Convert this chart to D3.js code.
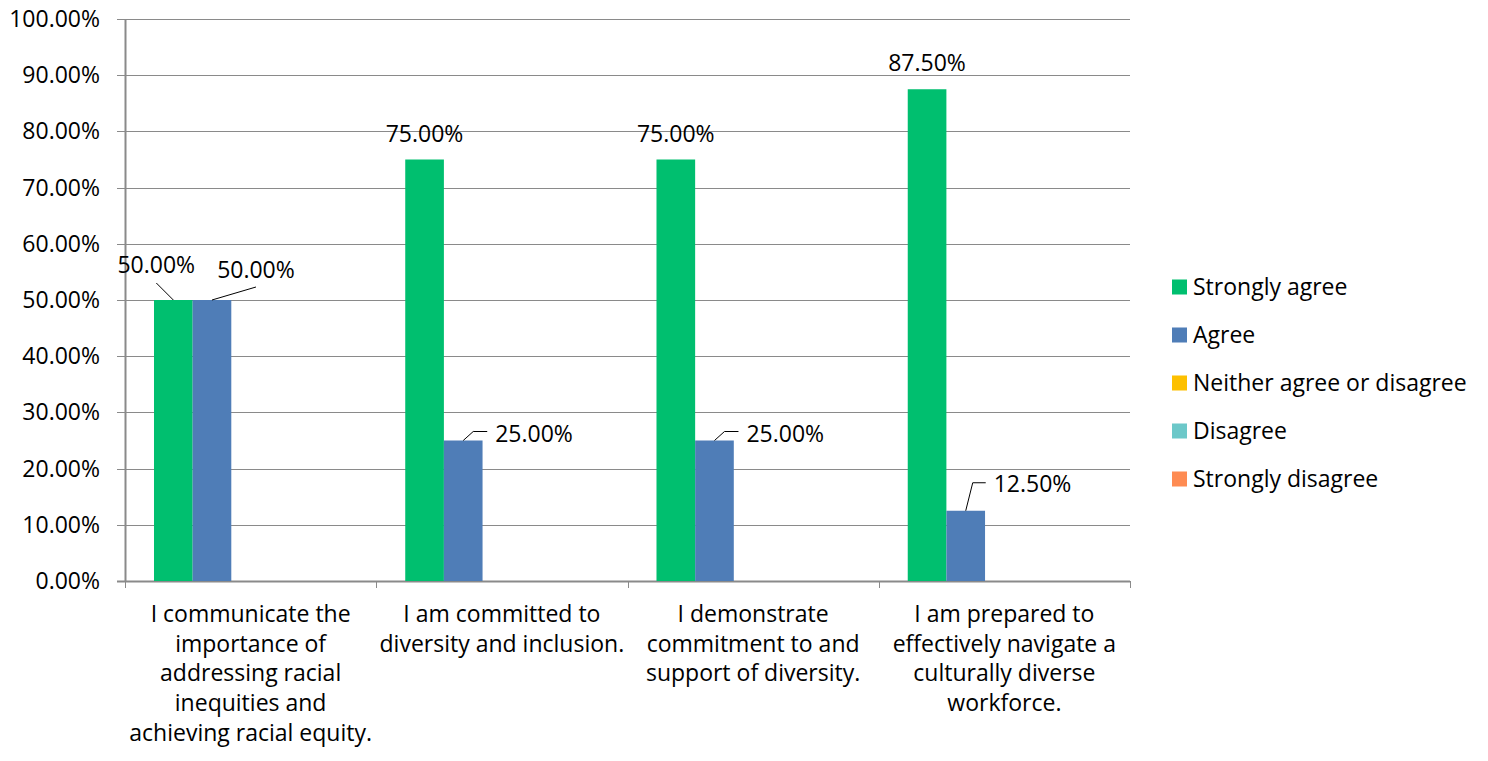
<!DOCTYPE html>
<html>
<head>
<meta charset="utf-8">
<script src="https://cdn.jsdelivr.net/npm/d3@7"></script>
<style>
  body { margin: 0; background: #fff; }
  text { font-family: "Open Sans", "Noto Sans", sans-serif; fill: #000; }
</style>
</head>
<body>
<script>
var w = 1488,
    h = 761;

// categories (line breaks as shown under the axis)
var categories = [
  "I communicate the\nimportance of\naddressing racial\ninequities and\nachieving racial equity.",
  "I am committed to\ndiversity and inclusion.",
  "I demonstrate\ncommitment to and\nsupport of diversity.",
  "I am prepared to\neffectively navigate a\nculturally diverse\nworkforce."
];

var seriesNames = ["Strongly agree", "Agree", "Neither agree or disagree", "Disagree", "Strongly disagree"];
var seriesColors = ["#00bf6f", "#4f7db7", "#fdc000", "#6cc8c9", "#fe8b52"];

var stronglyAgree = [0.50, 0.75, 0.75, 0.875];
var agree = [0.50, 0.25, 0.25, 0.125];
var neither = [0, 0, 0, 0];
var disagree = [0, 0, 0, 0];
var stronglyDisagree = [0, 0, 0, 0];

var yTicks = [0, 0.1, 0.2, 0.3, 0.4, 0.5, 0.6, 0.7, 0.8, 0.9, 1.0];

var allSeries = [stronglyAgree, agree, neither, disagree, stronglyDisagree];

var margin = {left: 125, right: 358, top: 19, bottom: 180};
var x0 = margin.left, x1 = w - margin.right, yTop = margin.top, yBot = h - margin.bottom;
var fs = "23px";

var svg = d3.select("body").append("svg").attr("width", w).attr("height", h);

var x = d3.scaleBand().domain(d3.range(categories.length)).range([x0, x1]);
var xs = d3.scaleBand().domain(d3.range(seriesNames.length)).range([0, x.bandwidth()])
          .paddingInner(0).paddingOuter(0.75);
var y = d3.scaleLinear().domain([0, 1]).range([yBot, yTop]);

var fmt = d3.format(".2%");
var gridColor = "#8a8a8a";

// gridlines + y tick labels
svg.selectAll("line.grid")
  .data(yTicks)
  .enter()
  .append("line")
  .attr("x1", x0 - 8).attr("x2", x1)
  .attr("y1", function(d) { return Math.round(y(d)) + 0.5; })
  .attr("y2", function(d) { return Math.round(y(d)) + 0.5; })
  .attr("stroke", gridColor).attr("stroke-width", 1);

svg.selectAll("text.ytick")
  .data(yTicks)
  .enter()
  .append("text")
  .attr("x", x0 - 25)
  .attr("y", function(d) { return y(d); })
  .attr("dy", "0.35em")
  .attr("text-anchor", "end")
  .style("font-size", fs)
  .text(function(d) { return fmt(d); });

// y axis line
svg.append("line")
  .attr("x1", x0 + 0.5).attr("x2", x0 + 0.5)
  .attr("y1", yTop).attr("y2", yBot)
  .attr("stroke", gridColor).attr("stroke-width", 2);

// x axis line and category ticks
svg.append("line")
  .attr("x1", x0 - 8).attr("x2", x1)
  .attr("y1", Math.round(yBot) + 0.5).attr("y2", Math.round(yBot) + 0.5)
  .attr("stroke", gridColor).attr("stroke-width", 2);

var boundaries = d3.range(categories.length + 1).map(function(i) {
  return i < categories.length ? x(i) : x1;
});
svg.selectAll("line.xtick")
  .data(boundaries)
  .enter()
  .append("line")
  .attr("x1", function(d) { return Math.round(d) + 0.5; })
  .attr("x2", function(d) { return Math.round(d) + 0.5; })
  .attr("y1", yBot).attr("y2", yBot + 7)
  .attr("stroke", gridColor).attr("stroke-width", 1);

// category labels
var catLabels = svg.selectAll("text.cat")
  .data(categories)
  .enter()
  .append("text")
  .attr("text-anchor", "middle")
  .style("font-size", fs);

catLabels.each(function(d, i) {
  var t = d3.select(this);
  d.split("\n").forEach(function(line, j) {
    t.append("tspan")
      .attr("x", x(i) + x.bandwidth() / 2)
      .attr("y", 614 + j * 29.7)
      .attr("dy", "0.35em")
      .text(line);
  });
});

// bars
var points = [];
allSeries.forEach(function(vals, s) {
  vals.forEach(function(v, c) {
    points.push({s: s, c: c, v: v});
  });
});

svg.selectAll("rect.bar")
  .data(points.filter(function(d) { return d.v > 0; }))
  .enter()
  .append("rect")
  .attr("x", function(d) { return x(d.c) + xs(d.s); })
  .attr("y", function(d) { return y(d.v); })
  .attr("width", xs.bandwidth())
  .attr("height", function(d) { return y(0) - y(d.v); })
  .attr("fill", function(d) { return seriesColors[d.s]; });

// data labels: moved labels get a leader line (offset of text centre from bar top centre)
var moved = {
  "0|0": {dx: -17, dy: -35, lead: [[-17, -17]]},
  "1|0": {dx: 44, dy: -30, lead: [[44, -13]]},
  "1|1": {dx: 73, dy: -7, lead: [[10, -9], [24, -9]]},
  "1|2": {dx: 73, dy: -7, lead: [[10, -9], [24, -9]]},
  "1|3": {dx: 67, dy: -27, lead: [[7, -28], [20, -28]]}
};

var labelled = points.filter(function(d) { return d.v > 0; });
labelled.forEach(function(d) {
  var cx = x(d.c) + xs(d.s) + xs.bandwidth() / 2,
      cy = y(d.v);
  var m = moved[d.s + "|" + d.c];
  var tx = cx, ty = cy - 26;
  if (m) {
    tx = cx + m.dx; ty = cy + m.dy;
    var pts = [[cx, cy]].concat(m.lead.map(function(p) { return [cx + p[0], cy + p[1]]; }));
    svg.append("path")
      .attr("d", d3.line()(pts))
      .attr("fill", "none")
      .attr("stroke", "#000")
      .attr("stroke-width", 1);
  }
  svg.append("text")
    .attr("x", tx)
    .attr("y", ty)
    .attr("dy", "0.35em")
    .attr("text-anchor", m && m.dx > 50 ? "start" : "middle")
    .attr("dx", m && m.dx > 50 ? -m.dx + m.lead[m.lead.length - 1][0] + 8 : 0)
    .style("font-size", fs)
    .text(fmt(d.v));
});

// legend
var legend = svg.selectAll("g.legend")
  .data(seriesNames)
  .enter()
  .append("g")
  .attr("transform", function(d, i) { return "translate(1172," + (287 + i * 48) + ")"; });

legend.append("rect")
  .attr("x", 0).attr("y", -7.5)
  .attr("width", 15).attr("height", 15)
  .attr("fill", function(d, i) { return seriesColors[i]; });

legend.append("text")
  .attr("x", 21)
  .attr("y", 0)
  .attr("dy", "0.35em")
  .style("font-size", fs)
  .text(function(d) { return d; });
</script>
</body>
</html>
